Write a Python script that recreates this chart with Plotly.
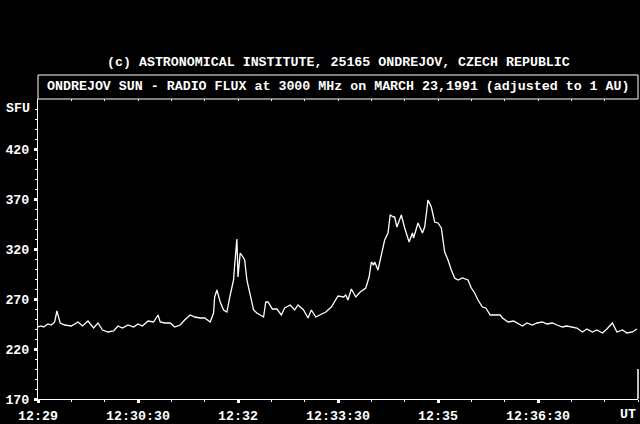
import plotly.graph_objects as go

# seconds after 12:29:00 UT
t_sec = [0, 3, 5, 9, 12, 15, 17, 20, 24, 30, 36, 40, 45, 50, 54, 58, 63, 68, 72, 76,
         81, 86, 90, 94, 99, 104, 108, 110, 114, 119, 123, 128, 132, 137, 141, 146, 150,
         155, 158, 159, 161, 164, 167, 170, 173, 176, 177, 179, 180, 182, 185, 186, 188,
         191, 194, 197, 200, 203, 205, 207, 211, 215, 219, 222, 227, 231, 234, 239, 243,
         246, 250, 255, 259, 264, 267, 270, 275, 277, 279, 282, 284, 286, 290, 293, 295,
         298, 300, 302, 303, 306, 309, 312, 315, 317, 320, 321, 323, 327, 330, 334, 337,
         338, 342, 346, 348, 351, 354, 357, 360, 363, 366, 369, 372, 375, 378, 382, 387,
         390, 393, 396, 400, 403, 407, 411, 416, 418, 423, 428, 431, 436, 440, 445, 449,
         454, 458, 463, 467, 472, 476, 481, 485, 490, 494, 499, 503, 508, 512, 517, 521,
         526, 530, 535, 539]

# radio flux, SFU
flux = [242, 243, 242, 245, 244, 247, 258, 246, 244, 243, 247, 243, 248, 241, 246, 239,
        237, 238, 243, 241, 244, 242, 245, 243, 248, 247, 254, 247, 246, 246, 242, 244,
        249, 254, 252, 251, 251, 247, 256, 272, 279, 267, 259, 257, 274, 289, 304, 330,
        292, 316, 311, 309, 289, 274, 259, 256, 254, 252, 267, 267, 260, 260, 254, 261,
        264, 259, 264, 259, 251, 259, 252, 255, 257, 262, 267, 273, 272, 274, 269, 280,
        276, 272, 277, 279, 281, 292, 307, 304, 307, 299, 314, 329, 336, 354, 352, 352,
        342, 354, 341, 327, 336, 331, 346, 336, 342, 369, 362, 347, 346, 341, 317, 309,
        299, 291, 289, 291, 289, 281, 276, 269, 262, 261, 254, 254, 254, 251, 247, 248,
        246, 243, 246, 244, 246, 247, 245, 246, 244, 242, 243, 242, 241, 237, 240, 237,
        239, 236, 240, 246, 237, 239, 236, 237, 240]

x_major = [0, 90, 180, 270, 360, 450, 540]
x_labels = ["12:29", "12:30:30", "12:32", "12:33:30", "12:35", "12:36:30", ""]
y_major = [170, 220, 270, 320, 370, 420]

FONT = "Liberation Mono"
W = "#ffffff"

fig = go.Figure()
fig.add_trace(go.Scatter(x=t_sec, y=flux, mode="lines",
                         line=dict(color=W, width=1.3), hoverinfo="skip",
                         showlegend=False))
# dummy trace so the top tick axis gets drawn
fig.add_trace(go.Scatter(x=[0, 540], y=[170, 170], xaxis="x2", mode="lines",
                         line=dict(width=0), opacity=0, hoverinfo="skip",
                         showlegend=False))

tickfont = dict(family=FONT, size=13.3, color=W, weight="bold")

fig.update_layout(
    width=640, height=424,
    margin=dict(l=38, r=2, t=99, b=25),
    paper_bgcolor="#000000", plot_bgcolor="#000000",
    showlegend=False,
    xaxis=dict(range=[0, 540], tickvals=x_major, ticktext=x_labels,
               ticks="outside", ticklen=3, tickwidth=3, tickcolor=W,
               showline=True, linecolor=W, linewidth=1, automargin=False,
               showgrid=False, zeroline=False, tickfont=tickfont,
               ticklabelstandoff=1,
               minor=dict(tickvals=list(range(0, 541, 30)), ticks="outside",
                          ticklen=2, tickwidth=1, tickcolor=W, showgrid=False)),
    xaxis2=dict(range=[0, 540], overlaying="x", side="top", automargin=False,
                tickvals=list(range(30, 540, 30)), ticks="inside", ticklen=2,
                tickwidth=1, tickcolor=W, showticklabels=False,
                showline=False, showgrid=False, zeroline=False),
    yaxis=dict(range=[170, 470], tickvals=y_major,
               ticks="outside", ticklen=3, tickwidth=3, tickcolor=W,
               showline=True, linecolor=W, linewidth=1, automargin=False,
               showgrid=False, zeroline=False, tickfont=tickfont,
               ticklabelstandoff=2,
               minor=dict(tickvals=list(range(180, 470, 10)), ticks="outside",
                          ticklen=2, tickwidth=1, tickcolor=W, showgrid=False)),
)

# title box sitting on top of the plot area
fig.add_shape(type="rect", xref="paper", yref="paper", x0=0, x1=1,
              y0=1, y1=1 + 24 / 300, line=dict(color=W, width=1))
# short right edge near the time axis
fig.add_shape(type="line", xref="paper", yref="paper", x0=1, x1=1,
              y0=0, y1=0.1, line=dict(color=W, width=1.5))

ann_font = dict(family=FONT, size=13.3, color=W, weight="bold")
fig.add_annotation(text="ONDREJOV SUN - RADIO FLUX at 3000 MHz on MARCH 23,1991 (adjusted to 1 AU)",
                   xref="paper", yref="paper", x=0.5, y=1 + 12 / 300,
                   xanchor="center", yanchor="middle", showarrow=False, font=ann_font)
fig.add_annotation(text="(c) ASTRONOMICAL INSTITUTE, 25165 ONDREJOV, CZECH REPUBLIC",
                   xref="paper", yref="paper", x=0.5, y=1 + 36 / 300,
                   xanchor="center", yanchor="middle", showarrow=False, font=ann_font)
fig.add_annotation(text="SFU", xref="paper", yref="paper", x=-6 / 600, y=1 - 9 / 300,
                   xanchor="right", yanchor="middle", showarrow=False, font=ann_font)
fig.add_annotation(text="UT", xref="paper", yref="paper", x=1, y=-15 / 300,
                   xanchor="right", yanchor="middle", showarrow=False, font=ann_font)

fig.write_html("out.html", config={"displayModeBar": False},
               post_script="document.body.style.margin='0';"
                           "document.body.style.overflow='hidden';"
                           "document.body.style.background='#000';")
